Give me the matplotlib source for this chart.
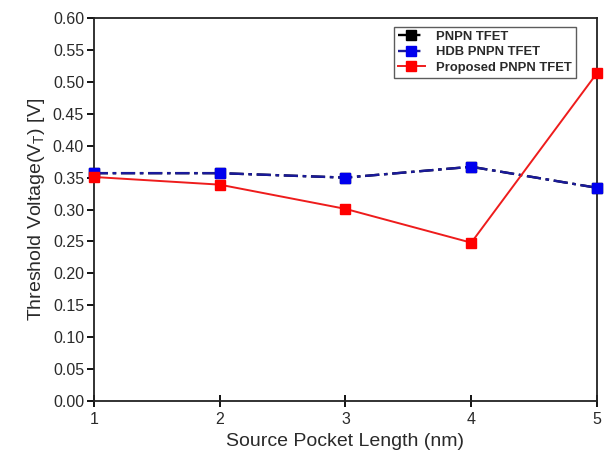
import matplotlib

matplotlib.use("Agg")
import matplotlib.pyplot as plt


POCKET_LEN = [1, 2, 3, 4, 5]
VT_PNPN = [0.357, 0.357, 0.350, 0.367, 0.334]
VT_HDB = [0.357, 0.357, 0.350, 0.367, 0.334]
VT_PROPOSED = [0.351, 0.339, 0.301, 0.248, 0.514]
Y_TICKS = [i * 0.05 for i in range(13)]

DASH_DOT = (0, (6, 2, 1.5, 2))


def main() -> None:
    plt.rcParams.update(
        {
            "font.family": ["Liberation Sans", "DejaVu Sans"],
            "font.size": 9,
            "text.color": "#2a2a2a",
            "axes.labelcolor": "#2a2a2a",
            "xtick.labelcolor": "#2a2a2a",
            "ytick.labelcolor": "#2a2a2a",
            "figure.facecolor": "white",
            "axes.facecolor": "white",
        }
    )

    fig = plt.figure(figsize=(6.13, 4.53), dpi=100)
    ax = fig.add_axes([0.153, 0.115, 0.821, 0.845])

    # the reference device sits right under the HDB curve, same dash pattern
    ax.plot(POCKET_LEN, VT_PNPN, color="black", linestyle=DASH_DOT, linewidth=1.7,
            marker="s", markersize=6.5, label="PNPN TFET", clip_on=False, zorder=2)
    ax.plot(POCKET_LEN, VT_HDB, color="#1a1a9a", linestyle=DASH_DOT, linewidth=1.7,
            marker="s", markersize=6.5, markerfacecolor="#0000ee", markeredgecolor="#0000ee",
            label="HDB PNPN TFET", clip_on=False, zorder=3)
    ax.plot(POCKET_LEN, VT_PROPOSED, color="#ee1c1c", linestyle="-", linewidth=1.4,
            marker="s", markersize=6.5, markerfacecolor="#ff0000", markeredgecolor="#ff0000",
            label="Proposed PNPN TFET", clip_on=False, zorder=4)

    ax.set_xlim(1, 5)
    ax.set_ylim(0, 0.6)
    ax.set_xticks(POCKET_LEN)
    ax.set_yticks(Y_TICKS, [f"{v:.2f}" for v in Y_TICKS])
    ax.tick_params(axis="y", direction="out", length=5, width=1.3, labelsize=11.5, pad=2)
    ax.tick_params(axis="x", direction="inout", length=8, width=1.3, labelsize=11.5, pad=4)
    for spine in ax.spines.values():
        spine.set_linewidth(1.3)
        spine.set_color("#222222")

    ax.set_xlabel("Source Pocket Length (nm)", fontsize=14, labelpad=4)
    ax.set_ylabel(r"Threshold Voltage(V$_\mathregular{T}$) [V]", fontsize=14, labelpad=4)

    leg = ax.legend(loc="upper right", bbox_to_anchor=(0.958, 0.977), borderaxespad=0,
                    frameon=True, fancybox=False, edgecolor="#333333", handlelength=2.0,
                    handletextpad=0.9, borderpad=0.3, labelspacing=0.25,
                    prop={"weight": "bold", "size": 9.4})
    leg.get_frame().set_linewidth(1.0)

    fig.savefig("out.png", dpi=100)
    plt.close(fig)


if __name__ == "__main__":
    main()
